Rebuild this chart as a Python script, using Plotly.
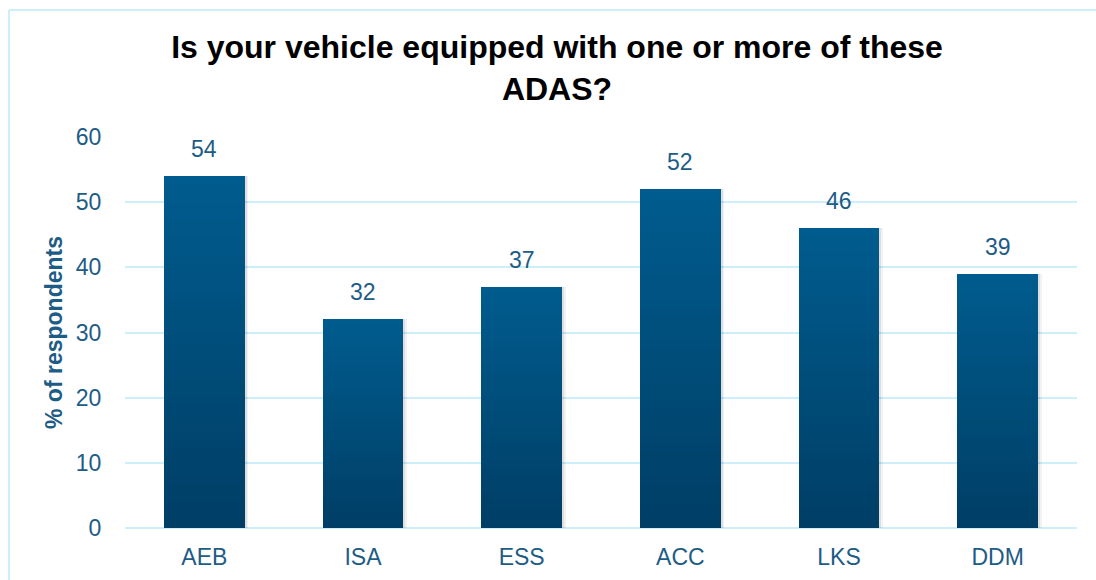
import plotly.graph_objects as go

# Survey results: share of respondents whose vehicle has each ADAS feature
categories = ["AEB", "ISA", "ESS", "ACC", "LKS", "DDM"]
shares = [54, 32, 37, 52, 46, 39]
y_ticks = [0, 10, 20, 30, 40, 50, 60]

TEXT_BLUE = "#1d5c85"
GRID_BLUE = "#cdeefb"
TOP_COLOR = (0, 92, 142)
BOTTOM_COLOR = (0, 62, 102)
N_SLICES = 40
BAR_WIDTH = 0.51
FONT = "Liberation Sans, Arial"


def blend(t):
    """Colour at fraction t of a bar's height (0 = bottom, 1 = top)."""
    r, g, b = (round(lo + (hi - lo) * t) for lo, hi in zip(BOTTOM_COLOR, TOP_COLOR))
    return f"rgb({r},{g},{b})"


fig = go.Figure()

# Soft drop shadow behind each bar
for shift, alpha in ((0.022, 0.05), (0.012, 0.08)):
    fig.add_trace(go.Bar(
        x=categories, y=shares,
        width=BAR_WIDTH, offset=-BAR_WIDTH / 2 + shift,
        marker=dict(color=f"rgba(0,0,0,{alpha})", line=dict(width=0)),
        hoverinfo="skip", showlegend=False,
    ))

# Each bar is built from thin stacked slices so it fades from dark at the base to lighter at the top
for k in range(N_SLICES):
    fig.add_trace(go.Bar(
        x=categories,
        y=[v / N_SLICES for v in shares],
        base=[v * k / N_SLICES for v in shares],
        width=BAR_WIDTH, offset=-BAR_WIDTH / 2,
        marker=dict(color=blend((k + 0.5) / N_SLICES), line=dict(width=0)),
        hoverinfo="skip",
        showlegend=False,
    ))

# Value labels above the bars
for cat, v in zip(categories, shares):
    fig.add_annotation(
        x=cat, y=v, text=str(v), showarrow=False,
        yanchor="bottom", yshift=12,
        font=dict(family=FONT, size=23, color=TEXT_BLUE),
    )

# Light frame around the chart
fig.add_shape(type="line", xref="paper", yref="paper",
              x0=-116 / 952, x1=1.03, y0=1 + 127 / 391, y1=1 + 127 / 391,
              line=dict(color=GRID_BLUE, width=2))
fig.add_shape(type="line", xref="paper", yref="paper",
              x0=-116 / 952, x1=-116 / 952, y0=1 + 127 / 391, y1=-0.2,
              line=dict(color=GRID_BLUE, width=2))

fig.update_layout(
    width=1096, height=580,
    margin=dict(l=125, r=19, t=137, b=52, autoexpand=False),
    paper_bgcolor="white", plot_bgcolor="white",
    barmode="overlay", bargap=0,
    title=dict(
        text="Is your vehicle equipped with one or more of these<br>ADAS?",
        x=557 / 1096, xanchor="center", xref="container",
        y=1 - 58 / 580, yanchor="top", yref="container",
        font=dict(family=FONT, size=32, color="black", weight="bold"),
    ),
    font=dict(family=FONT, color=TEXT_BLUE),
)

fig.update_xaxes(
    showgrid=False, showline=False, zeroline=False, automargin=False,
    tickfont=dict(size=23, color=TEXT_BLUE),
    ticks="outside", ticklen=8, tickcolor="rgba(0,0,0,0)",
)
fig.update_yaxes(
    range=[0, 60], tickvals=y_ticks, automargin=False,
    showgrid=True, gridcolor=GRID_BLUE, gridwidth=2,
    zeroline=True, zerolinecolor=GRID_BLUE, zerolinewidth=2,
    showline=False,
    tickfont=dict(size=23, color=TEXT_BLUE),
    ticks="outside", ticklen=18, tickcolor="rgba(0,0,0,0)",
    title=dict(text="% of respondents", standoff=6,
               font=dict(size=23, color=TEXT_BLUE, weight="bold")),
)

fig.write_html("out.html")
